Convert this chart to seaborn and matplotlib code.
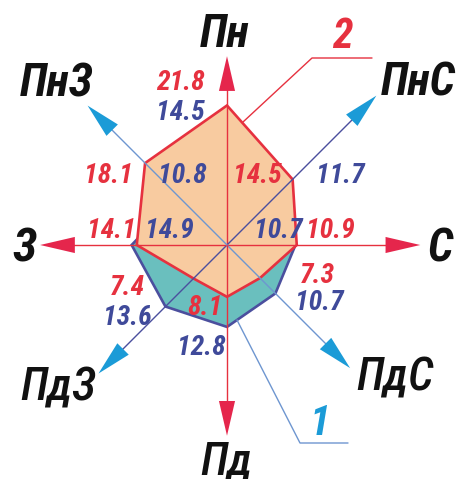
import numpy as np
import matplotlib
matplotlib.use('Agg')
import matplotlib.pyplot as plt
import seaborn as sns

# ---- data ----
directions = ['Пн', 'ПнС', 'С', 'ПдС', 'Пд', 'ПдЗ', 'З', 'ПнЗ']
series1 = [14.5, 11.7, 10.7, 10.7, 12.8, 13.6, 14.9, 10.8]   # rose 1 (teal)
series2 = [21.8, 14.5, 10.9, 7.3, 8.1, 7.4, 14.1, 18.1]      # rose 2 (orange)
series_names = ['1', '2']

# ---- style ----
sns.set_theme(style='white')
plt.rcParams['font.family'] = ['Roboto Condensed', 'Liberation Sans', 'DejaVu Sans']

RED = '#E6313F'
RED_HEAD = '#E5264C'
BLUE_TXT = '#3F4A9A'
BLUE_EDGE = '#4B4F9E'
LIGHT_BLUE = '#6E96D0'
CYAN = '#1B9BD7'
ORANGE = '#F8CBA0'
TEAL = '#6ABFBE'

W, H, DPI = 457, 479, 100
CX, CY = 227, 245      # centre of the rose in pixels
PX = 6.4               # pixels per unit
RMAX = 34
R = RMAX * PX

fig = plt.figure(figsize=(W / DPI, H / DPI), dpi=DPI)
ax = fig.add_axes([(CX - R) / W, (H - CY - R) / H, 2 * R / W, 2 * R / H],
                  projection='polar')
ax.set_theta_zero_location('N')
ax.set_theta_direction(-1)
ax.set_ylim(0, RMAX)
ax.set_axis_off()


def P(px, py):
    dx = (px - CX) / PX
    dy = (CY - py) / PX
    return np.arctan2(dx, dy), np.hypot(dx, dy)


theta = np.deg2rad(np.arange(len(directions)) * 45.0)
th_c = np.append(theta, theta[0])

# polygons
ax.fill(th_c, np.append(series1, series1[0]), facecolor=TEAL, edgecolor=BLUE_EDGE,
        lw=1.9, joinstyle='miter', zorder=2)
ax.fill(th_c, np.append(series2, series2[0]), facecolor=ORANGE, edgecolor=RED,
        lw=1.9, joinstyle='miter', zorder=3)

# axes with arrows
tip_r = [29.5, 33.0, 30.2, 27.2, 29.8, 28.4, 29.2, 30.8]
line_cols = [RED, BLUE_EDGE, RED, LIGHT_BLUE, RED, BLUE_EDGE, RED, LIGHT_BLUE]
head_cols = [RED_HEAD, CYAN, RED_HEAD, CYAN, RED_HEAD, CYAN, RED_HEAD, CYAN]
for th, rt, lc, hc in zip(theta, tip_r, line_cols, head_cols):
    ax.plot([th, th], [0, rt - 2], color=lc, lw=1.0, zorder=4, clip_on=False)
    ax.annotate('', xy=(th, rt), xytext=(th, rt - 6),
                arrowprops=dict(arrowstyle='-|>,head_length=25,head_width=5.8',
                                mutation_scale=1, fc=hc, ec=hc, lw=0,
                                shrinkA=0, shrinkB=0),
                zorder=5, annotation_clip=False)

# direction labels (baseline positions in px)
dir_pos = [(225, 47), (418, 95), (440, 262), (395, 390),
           (226, 474), (58, 400), (24, 262), (57, 97)]
dir_bold = ['bold', 'bold', 'bold', 'medium', 'medium', 'medium', 'bold', 'bold']
for name, (px, py), wt in zip(directions, dir_pos, dir_bold):
    t, r = P(px, py)
    ax.text(t, r, name, fontsize=33, fontstyle='italic', fontweight=wt,
            color='#111111', ha='center', va='baseline', zorder=6)

# value labels
red_pos = [(180, 90), (257, 183), (330, 238), (317, 283),
           (205, 315), (127, 295), (111, 238), (108, 183)]
blue_pos = [(180, 120), (340, 183), (278, 238), (319, 310),
            (201, 355), (127, 325), (169, 238), (182, 183)]
for v, (px, py) in zip(series2, red_pos):
    t, r = P(px, py)
    ax.text(t, r, f'{v:.1f}', fontsize=20, fontstyle='italic', fontweight='bold',
            color=RED, ha='center', va='baseline', zorder=7)
for v, (px, py) in zip(series1, blue_pos):
    t, r = P(px, py)
    ax.text(t, r, f'{v:.1f}', fontsize=20, fontstyle='italic', fontweight='bold',
            color=BLUE_TXT, ha='center', va='baseline', zorder=7)

# leaders with series numbers
lead2 = [(243, 122), (312, 58), (372, 58)]
lead1 = [(237, 320), (300, 443), (348, 443)]
for pts, col in ((lead2, RED), (lead1, LIGHT_BLUE)):
    tr = [P(*p) for p in pts]
    ax.plot([a for a, b in tr], [b for a, b in tr], color=col, lw=1.0,
            zorder=6, clip_on=False)

t, r = P(342, 48)
ax.text(t, r, series_names[1], fontsize=30, fontstyle='italic', fontweight='bold',
        color=RED, ha='center', va='baseline', zorder=7)
t, r = P(320, 435)
ax.text(t, r, series_names[0], fontsize=30, fontstyle='italic', fontweight='bold',
        color=CYAN, ha='center', va='baseline', zorder=7)

fig.savefig('out.png', dpi=DPI, facecolor='white')
